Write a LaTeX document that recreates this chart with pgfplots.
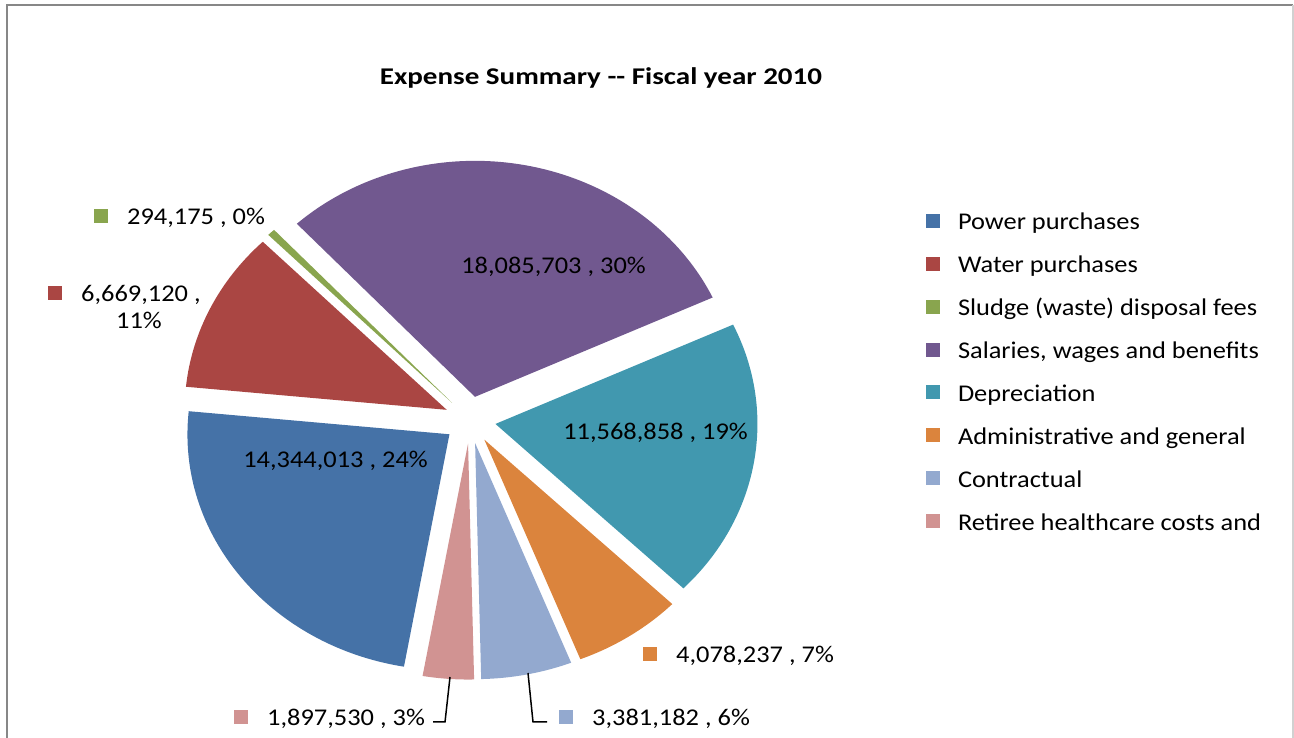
\documentclass[border=0pt]{standalone}
\usepackage{fontspec}
\setmainfont{Carlito}[FakeStretch=1.1]
\newfontfamily\titlefont{Carlito}[FakeStretch=1.21]
\usepackage{pgfplots}
\usepackage{pgfplotstable}
\pgfplotsset{compat=1.18}

\definecolor{c0}{HTML}{4572A7}
\definecolor{c1}{HTML}{AA4643}
\definecolor{c2}{HTML}{89A54E}
\definecolor{c3}{HTML}{71588F}
\definecolor{c4}{HTML}{4198AF}
\definecolor{c5}{HTML}{DB843D}
\definecolor{c6}{HTML}{93A9CF}
\definecolor{c7}{HTML}{D19392}

% Expense values (fiscal year 2010)
\pgfplotstableread{
idx value
0 14344013
1 6669120
2 294175
3 18085703
4 11568858
5 4078237
6 3381182
7 1897530
}\piedata

\newcommand\fs{\fontsize{24bp}{28bp}\selectfont}
\newcommand\key[1]{\textcolor{#1}{\raisebox{2bp}{\rule{14bp}{14bp}}}\hspace{19bp}}

\begin{document}
\begin{tikzpicture}
% ---- angles from the data (clockwise, first slice starting at -100 deg)
\gdef\cum{0}
\pgfplotsforeachungrouped \i in {0,...,7}{%
  \pgfplotstablegetelem{\i}{value}\of\piedata
  \expandafter\xdef\csname v\i\endcsname{\pgfplotsretval}%
  \xdef\cum{\fpeval{\cum+\pgfplotsretval}}%
}
\xdef\total{\cum}
\gdef\cum{0}
\def\rxf{1.0155}% x radius / x unit (262/258)
\pgfplotsforeachungrouped \i in {0,...,7}{%
  \edef\vv{\csname v\i\endcsname}%
  \xdef\aS{\fpeval{round(-100 - 360*\cum/\total,4)}}%
  \xdef\cum{\fpeval{\cum+\vv}}%
  \xdef\aE{\fpeval{round(-100 - 360*\cum/\total,4)}}%
  \xdef\aM{\fpeval{(\aS+\aE)/2}}%
  \expandafter\xdef\csname aS\i\endcsname{\aS}%
  \expandafter\xdef\csname aE\i\endcsname{\aE}%
  \expandafter\xdef\csname ox\i\endcsname{\fpeval{round(0.1*cosd(\aM),5)}}%
  \expandafter\xdef\csname oy\i\endcsname{\fpeval{round(0.1*sind(\aM),5)}}%
  \expandafter\xdef\csname px\i\endcsname{\fpeval{round(0.1*cosd(\aM)+\rxf*cosd(\aS),5)}}%
  \expandafter\xdef\csname py\i\endcsname{\fpeval{round(0.1*sind(\aM)+sind(\aS),5)}}%
}
\begin{axis}[
  x=258bp, y=236bp,
  xmin=-1.82171, xmax=3.19380, ymin=-1.34746, ymax=1.77966,
  hide axis, clip=false,
  legend image code/.code={\fill (0bp,2bp) rectangle (14bp,16bp); \path (32bp,2bp);},
  legend style={at={(axis cs:1.76744,0.87712)}, anchor=north west,
    draw=none, fill=none, inner sep=0pt, outer sep=0pt,
    row sep=19.86bp, column sep=0pt, font=\fs,
    cells={anchor=base west},
    nodes={inner sep=0pt, text height=17bp, text depth=6bp}},
]
\coordinate (SW) at (rel axis cs:0,0);
\coordinate (NE) at (rel axis cs:1,1);
% ---- frame
\draw[color=black!47, line width=2.5bp] (axis cs:-1.79457,-1.34746) -- (axis cs:-1.79457,1.75847) -- (axis cs:3.18992,1.75847);
\draw[color=black!18, line width=1.5bp] (axis cs:3.18992,1.75847) -- (axis cs:3.18992,-1.34746);
% ---- wedges
\pgfplotsinvokeforeach{0,...,7}{%
  \fill[c#1] (axis cs:\csname ox#1\endcsname,\csname oy#1\endcsname)
    -- (axis cs:\csname px#1\endcsname,\csname py#1\endcsname)
    arc[start angle=\csname aS#1\endcsname, end angle=\csname aE#1\endcsname, x radius=262bp, y radius=236bp]
    -- cycle;
}
% ---- legend
\addlegendimage{fill=c0, draw=none}\addlegendentry{Power purchases}
\addlegendimage{fill=c1, draw=none}\addlegendentry{Water purchases}
\addlegendimage{fill=c2, draw=none}\addlegendentry{Sludge (waste) disposal fees}
\addlegendimage{fill=c3, draw=none}\addlegendentry{Salaries, wages and benefits}
\addlegendimage{fill=c4, draw=none}\addlegendentry{Depreciation}
\addlegendimage{fill=c5, draw=none}\addlegendentry{Administrative and general}
\addlegendimage{fill=c6, draw=none}\addlegendentry{Contractual}
\addlegendimage{fill=c7, draw=none}\addlegendentry{Retiree healthcare costs and}
% ---- title
\node[anchor=base, font=\fs\titlefont\bfseries, inner sep=0pt] at (axis cs:0.50775,1.41949) {Expense Summary {-}{-} Fiscal year 2010};
% ---- inside labels
\node[anchor=base, font=\fs, inner sep=0pt] at (axis cs:0.32364,0.61864) {18,085,703 , 30\%};
\node[anchor=base, font=\fs, inner sep=0pt] at (axis cs:0.71899,-0.08475) {11,568,858 , 19\%};
\node[anchor=base, font=\fs, inner sep=0pt] at (axis cs:-0.52132,-0.20339) {14,344,013 , 24\%};
% ---- outside labels
\node[anchor=base west, font=\fs, inner sep=0pt] at (axis cs:-1.45736,0.82627) {\key{c2}294,175 , 0\%};
\node[anchor=base west, font=\fs, inner sep=0pt] at (axis cs:-1.63566,0.5) {\key{c1}6,669,120 ,};
\node[anchor=base, font=\fs, inner sep=0pt] at (axis cs:-1.28295,0.38559) {11\%};
\node[anchor=base west, font=\fs, inner sep=0pt] at (axis cs:0.67054,-1.02966) {\key{c5}4,078,237 , 7\%};
\node[anchor=base west, font=\fs, inner sep=0pt] at (axis cs:0.34496,-1.29661) {\key{c6}3,381,182 , 6\%};
\node[anchor=base west, font=\fs, inner sep=0pt] at (axis cs:-0.91473,-1.29661) {\key{c7}1,897,530 , 3\%};
% ---- leader lines
\draw[black, line width=1.5bp] (axis cs:-0.07752,-1.08898) -- (axis cs:-0.09690,-1.27966) -- (axis cs:-0.14341,-1.27966);
\draw[black, line width=1.5bp] (axis cs:0.22481,-1.07203) -- (axis cs:0.24419,-1.27966) -- (axis cs:0.29845,-1.27966);
\end{axis}
\pgfresetboundingbox
\path[use as bounding box] (SW) rectangle (NE);
\end{tikzpicture}
\end{document}
